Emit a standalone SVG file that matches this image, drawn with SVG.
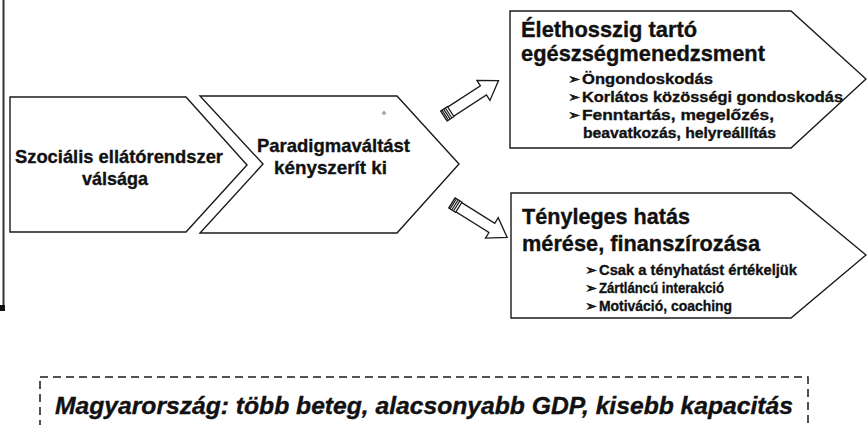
<svg xmlns="http://www.w3.org/2000/svg" width="867" height="425" viewBox="0 0 867 425">
  <style>
    .shape { fill: #ffffff; stroke: #1a1a1a; stroke-width: 1.4; stroke-linejoin: miter; }
    .t { font-family: "Liberation Sans", Arial, sans-serif; font-weight: bold; fill: #111111; stroke: #111111; stroke-width: 0.35; }
    .main { font-size: 19px; }
    .title { font-size: 21.5px; }
    .item { font-size: 15.5px; }
    .bullet { font-family: "DejaVu Sans", sans-serif; font-size: 14.5px; fill: #111111; stroke: #111111; stroke-width: 0.4; }
    .note { font-size: 23px; font-style: italic; }
    .arrow { fill: #ffffff; stroke: #1a1a1a; stroke-width: 1.3; stroke-linejoin: miter; }
    .band { stroke: #1a1a1a; stroke-width: 1.2; }
  </style>
  <defs>
    <!-- block arrow pointing along +x, tail with ribbed band -->
    <g id="blockArrow">
      <polygon class="arrow" points="0,-5.5 47,-5.5 47,-12 65,0 47,12 47,5.5 0,5.5"/>
      <rect x="0" y="-6" width="8" height="12" fill="#ffffff" stroke="#1a1a1a" stroke-width="1.2"/>
      <line class="band" x1="1.5" y1="-6" x2="1.5" y2="6"/>
      <line class="band" x1="3.5" y1="-6" x2="3.5" y2="6"/>
      <line class="band" x1="5.5" y1="-6" x2="5.5" y2="6"/>
    </g>
  </defs>

  <rect width="867" height="425" fill="#ffffff"/>

  <!-- left frame edge -->
  <line x1="3.5" y1="0" x2="3.5" y2="310" stroke="#333333" stroke-width="2"/>
  <rect x="0" y="305" width="5" height="6" fill="#111111"/>

  <g id="node-crisis">
    <polygon class="shape" points="10,97 186,97 247,165 186,232 10,232"/>
    <text class="t main" x="15" y="163" textLength="208" lengthAdjust="spacingAndGlyphs">Szociális ellátórendszer</text>
    <text class="t main" x="82" y="185" textLength="66" lengthAdjust="spacingAndGlyphs">válsága</text>
  </g>

  <g id="node-paradigm">
    <polygon class="shape" points="200,96 397,96 459,164 397,233 200,233 263,164"/>
    <text class="t main" x="257" y="152" textLength="153" lengthAdjust="spacingAndGlyphs">Paradigmaváltást</text>
    <text class="t main" x="274" y="174" textLength="113" lengthAdjust="spacingAndGlyphs">kényszerít ki</text>
    <circle cx="384" cy="113" r="1.3" fill="none" stroke="#555555" stroke-width="0.8"/>
  </g>

  <g id="node-lifelong">
    <polygon class="shape" points="510,11 791,11 866,79 791,148 510,148"/>
    <text class="t title" x="521" y="37" textLength="176" lengthAdjust="spacingAndGlyphs">Élethosszig tartó</text>
    <text class="t title" x="521" y="61" textLength="244" lengthAdjust="spacingAndGlyphs">egészségmenedzsment</text>
    <text class="bullet" x="568" y="84">➢</text>
    <text class="t item" x="582" y="84" textLength="131" lengthAdjust="spacingAndGlyphs">Öngondoskodás</text>
    <text class="bullet" x="568" y="102">➢</text>
    <text class="t item" x="582" y="102" textLength="261" lengthAdjust="spacingAndGlyphs">Korlátos közösségi gondoskodás</text>
    <text class="bullet" x="568" y="120">➢</text>
    <text class="t item" x="582" y="120" textLength="192" lengthAdjust="spacingAndGlyphs">Fenntartás, megelőzés,</text>
    <text class="t item" x="583" y="138" textLength="193" lengthAdjust="spacingAndGlyphs">beavatkozás, helyreállítás</text>
  </g>

  <g id="node-impact">
    <polygon class="shape" points="511,193 791,193 866,255 791,318 511,318"/>
    <text class="t title" x="522" y="224" textLength="168" lengthAdjust="spacingAndGlyphs">Tényleges hatás</text>
    <text class="t title" x="522" y="251" textLength="238" lengthAdjust="spacingAndGlyphs">mérése, finanszírozása</text>
    <text class="bullet" x="585" y="275">➢</text>
    <text class="t item" x="599" y="275" textLength="198" lengthAdjust="spacingAndGlyphs">Csak a tényhatást értékeljük</text>
    <text class="bullet" x="585" y="293">➢</text>
    <text class="t item" x="599" y="293" textLength="125" lengthAdjust="spacingAndGlyphs">Zártláncú interakció</text>
    <text class="bullet" x="585" y="311">➢</text>
    <text class="t item" x="599" y="311" textLength="133" lengthAdjust="spacingAndGlyphs">Motiváció, coaching</text>
  </g>

  <g id="connectors">
    <use href="#blockArrow" transform="translate(444,116) rotate(-33)"/>
    <use href="#blockArrow" transform="translate(452,203) rotate(32)"/>
  </g>

  <g id="node-note">
    <rect x="40" y="377" width="768" height="70" fill="none" stroke="#1a1a1a" stroke-width="1.5" stroke-dasharray="8 5"/>
    <text class="t note" x="55" y="414" textLength="738" lengthAdjust="spacingAndGlyphs">Magyarország: több beteg, alacsonyabb GDP, kisebb kapacitás</text>
  </g>
</svg>
